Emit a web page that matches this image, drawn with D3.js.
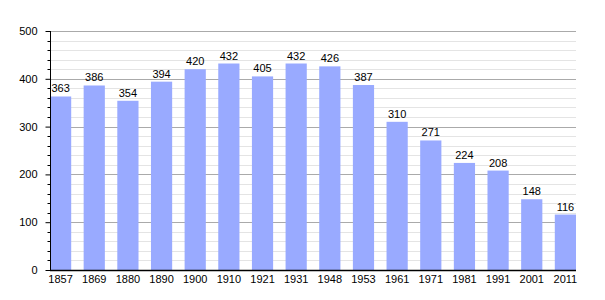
<html>
<head>
<script src="https://d3js.org/d3.v7.min.js"></script>
<style>
  body { margin: 0; background: #fff; }
  text { font-family: "Liberation Sans", Arial, sans-serif; font-size: 11px; fill: #000; }
</style>
</head>
<body>
<svg width="605" height="300"></svg>
<script>
const years = ['1857','1869','1880','1890','1900','1910','1921','1931','1948','1953','1961','1971','1981','1991','2001','2011'];
const population = [363, 386, 354, 394, 420, 432, 405, 432, 426, 387, 310, 271, 224, 208, 148, 116];
const yTicks = [0, 100, 200, 300, 400, 500];

const svg = d3.select('svg');
const plotLeft = 50, plotRight = 576, plotTop = 31, plotBottom = 270;

const x = d3.scaleBand().domain(years).range([plotLeft, plotRight]).paddingInner(0.37).paddingOuter(0);
const y = d3.scaleLinear().domain([0, 500]).range([plotBottom, plotTop]);
const minorTicks = d3.range(0, 501, 20).filter(v => v % 100 !== 0);

// minor grid
svg.append('g').selectAll('line')
  .data(minorTicks)
  .join('line')
  .attr('x1', plotLeft).attr('x2', plotRight)
  .attr('y1', d => Math.round(y(d)) + 0.5).attr('y2', d => Math.round(y(d)) + 0.5)
  .attr('stroke', '#e4e4e4').attr('stroke-width', 1);

// major grid
svg.append('g').selectAll('line')
  .data(yTicks.filter(v => v > 0))
  .join('line')
  .attr('x1', plotLeft).attr('x2', plotRight)
  .attr('y1', d => Math.round(y(d)) + 0.5).attr('y2', d => Math.round(y(d)) + 0.5)
  .attr('stroke', '#aaaaaa').attr('stroke-width', 1);

// bars
svg.append('g').selectAll('rect')
  .data(years)
  .join('rect')
  .attr('x', d => x(d))
  .attr('width', x.bandwidth())
  .attr('y', (d, i) => y(population[i]))
  .attr('height', (d, i) => plotBottom - y(population[i]))
  .attr('fill', '#99aaff');

// value labels
svg.append('g').selectAll('text')
  .data(years)
  .join('text')
  .attr('x', d => x(d) + x.bandwidth() / 2)
  .attr('y', (d, i) => y(population[i]) - 4)
  .attr('text-anchor', 'middle')
  .text((d, i) => population[i]);

// y axis
const yAxis = svg.append('g').attr('transform', `translate(${plotLeft + 0.5},0)`);
yAxis.call(d3.axisLeft(y).tickValues(yTicks).tickSize(5).tickPadding(8).tickFormat(d3.format('d')));
yAxis.selectAll('.tick line').attr('stroke', '#000');
yAxis.select('.domain').attr('d', `M0,${plotTop}V${plotBottom}`).attr('stroke', '#000');
yAxis.selectAll('.tick text').style('font-size', '11px').attr('fill', '#000');
yAxis.append('g').selectAll('line')
  .data(minorTicks)
  .join('line')
  .attr('x1', -3).attr('x2', 0)
  .attr('y1', d => Math.round(y(d)) + 0.5).attr('y2', d => Math.round(y(d)) + 0.5)
  .attr('stroke', '#000');

// x axis
const xAxis = svg.append('g').attr('transform', `translate(0,${plotBottom + 0.5})`);
xAxis.call(d3.axisBottom(x).tickSize(0).tickPadding(5));
xAxis.select('.domain').attr('d', `M${plotLeft},0H${plotRight}`).attr('stroke', '#000').attr('stroke-width', 1.5);
xAxis.selectAll('.tick text').style('font-size', '11px').attr('fill', '#000');
</script>
</body>
</html>
